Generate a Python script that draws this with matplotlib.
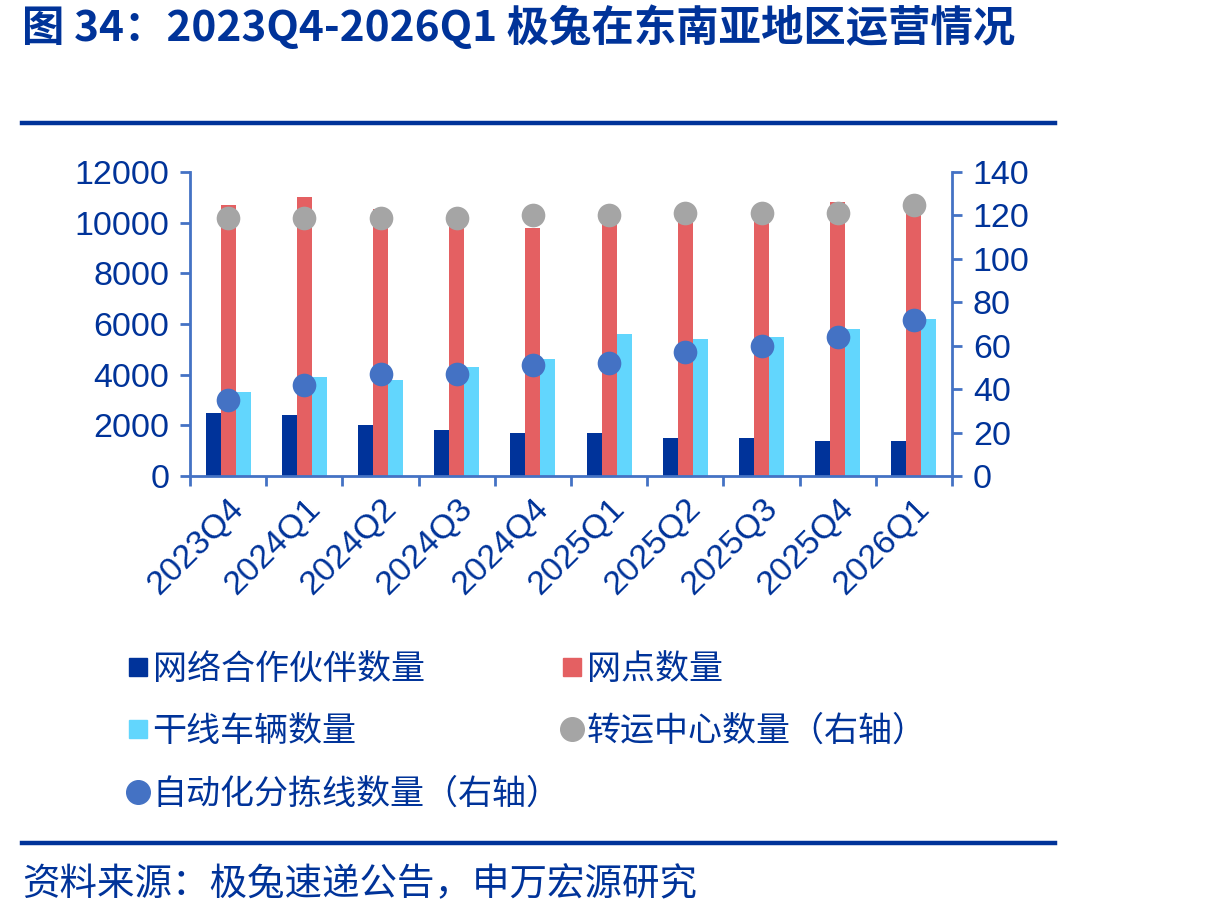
import matplotlib
matplotlib.use("Agg")
import matplotlib.pyplot as plt
from matplotlib.lines import Line2D
import numpy as np

plt.rcParams['font.family'] = ['Liberation Sans', 'Noto Sans CJK SC', 'DejaVu Sans']

categories = ["2023Q4", "2024Q1", "2024Q2", "2024Q3", "2024Q4",
              "2025Q1", "2025Q2", "2025Q3", "2025Q4", "2026Q1"]
partners = [2500, 2400, 2000, 1800, 1700, 1700, 1500, 1500, 1400, 1400]
outlets = [10700, 11000, 10550, 10450, 9800, 10000, 10300, 10500, 10800, 10500]
trucks = [3300, 3900, 3800, 4300, 4600, 5600, 5400, 5500, 5800, 6200]
hubs = [119, 119, 119, 119, 120, 120, 121, 121, 121, 125]
sort_lines = [35, 42, 47, 47, 51, 52, 57, 60, 64, 72]

left_ticks = [0, 2000, 4000, 6000, 8000, 10000, 12000]
right_ticks = [0, 20, 40, 60, 80, 100, 120, 140]

names = ["网络合作伙伴数量", "网点数量", "干线车辆数量",
         "转运中心数量（右轴）", "自动化分拣线数量（右轴）"]

NAVY = "#00339A"
RED = "#E46062"
CYAN = "#62D6FD"
GREY = "#A5A5A5"
BLUE = "#4472C4"
TXT = "#003399"

fig = plt.figure(figsize=(12.24, 9.19), dpi=100)
ax = fig.add_axes([190/1224, 1-476/919, (952-190)/1224, (476-172)/919])
ax2 = ax.twinx()

x = np.arange(len(categories))
w = 0.197
ax.bar(x - w, partners, w, color=NAVY, zorder=2)
ax.bar(x, outlets, w, color=RED, zorder=2)
ax.bar(x + w, trucks, w, color=CYAN, zorder=2)

ax2.scatter(x, hubs, s=290, color=GREY, zorder=3, linewidths=0)
ax2.scatter(x, sort_lines, s=290, color=BLUE, zorder=3, linewidths=0)

ax.set_xlim(-0.5, len(categories) - 0.5)
ax.set_ylim(0, 12000)
ax2.set_ylim(0, 140)
ax.set_yticks(left_ticks)
ax2.set_yticks(right_ticks)

ax.set_xticks(x)
ax.set_xticklabels(categories, rotation=45, ha='right', rotation_mode='anchor',
                   fontsize=24.5, color=TXT)
ax.set_xticks(np.arange(-0.5, len(categories)), minor=True)
ax.tick_params(axis='x', which='major', length=0, pad=12)
ax.tick_params(axis='x', which='minor', length=7, width=2, color=BLUE, direction='out')

ax.tick_params(axis='y', length=7, width=2, color=BLUE, labelsize=24.5, labelcolor=TXT, pad=8)
ax2.tick_params(axis='y', length=7, width=2, color=BLUE, labelsize=24.5, labelcolor=TXT, pad=8)

for a in (ax, ax2):
    a.spines['top'].set_visible(False)
    for s in ('left', 'right', 'bottom'):
        a.spines[s].set_color(BLUE)
        a.spines[s].set_linewidth(2)
ax.spines['right'].set_visible(False)
ax2.spines['left'].set_visible(False)
ax2.spines['bottom'].set_visible(False)

# legend (column-major with 2 columns)
h_partner = Line2D([], [], marker='s', linestyle='none', color=NAVY, markersize=13)
h_outlet = Line2D([], [], marker='s', linestyle='none', color=RED, markersize=13)
h_truck = Line2D([], [], marker='s', linestyle='none', color=CYAN, markersize=13)
h_hub = Line2D([], [], marker='o', linestyle='none', color=GREY, markersize=17)
h_sort = Line2D([], [], marker='o', linestyle='none', color=BLUE, markersize=17)
handles = [h_partner, h_truck, h_sort, h_outlet, h_hub]
labels = [names[0], names[2], names[4], names[1], names[3]]
leg = fig.legend(handles, labels, ncol=2, loc='upper left',
                 bbox_to_anchor=(128/1224, 1-652/919), frameon=False,
                 prop={'family': ['Noto Sans CJK SC', 'DejaVu Sans'], 'size': 24.5},
                 handlelength=0.6, handletextpad=0.12, columnspacing=0.05,
                 labelspacing=0.8, borderaxespad=0, borderpad=0)
for t in leg.get_texts():
    t.set_color(TXT)

# title and rules
fig.text(22/1224, 1-28/919, "图 34：2023Q4-2026Q1 极兔在东南亚地区运营情况",
         fontsize=30.5, fontweight='bold', color=TXT, va='center', ha='left',
         family=['Noto Sans CJK SC', 'DejaVu Sans'])
fig.add_artist(Line2D([22/1224, 1055/1224], [1-123/919, 1-123/919],
                      color=TXT, linewidth=3.2))
fig.add_artist(Line2D([22/1224, 1055/1224], [1-843/919, 1-843/919],
                      color=TXT, linewidth=3.2))
fig.text(22/1224, 1-885/919, "资料来源：极兔速递公告，申万宏源研究",
         fontsize=27, color=TXT, va='center', ha='left',
         family=['Noto Sans CJK SC', 'DejaVu Sans'])

fig.savefig("out.png", dpi=100)
